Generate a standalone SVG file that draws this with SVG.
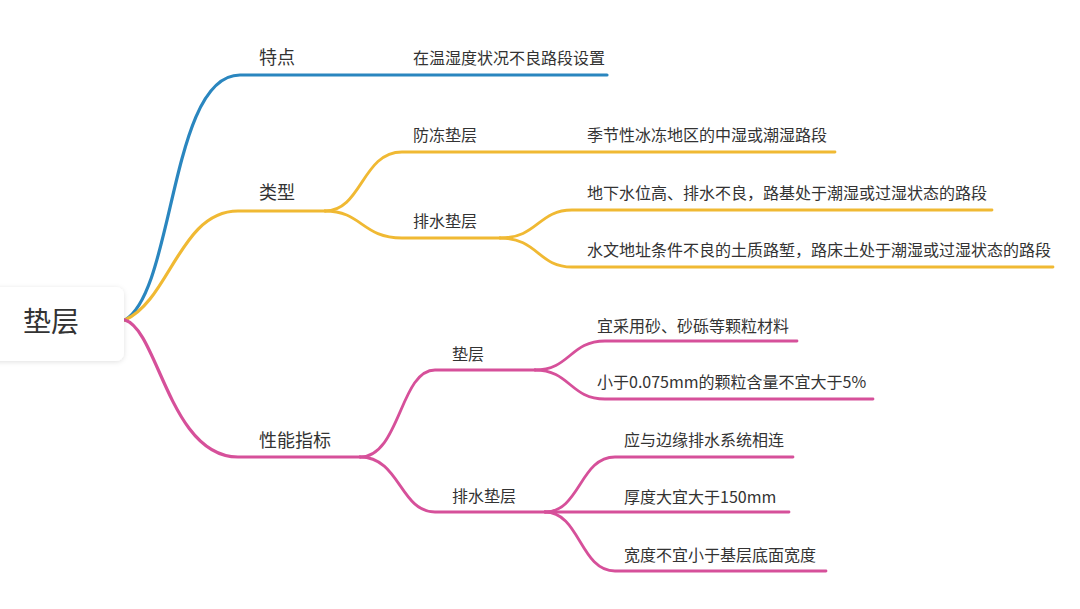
<svg xmlns="http://www.w3.org/2000/svg" width="1080" height="609" viewBox="0 0 1080 609">
<defs>
<filter id="sh" x="-20%" y="-30%" width="140%" height="160%">
<feDropShadow dx="0" dy="1" stdDeviation="2.5" flood-color="#000" flood-opacity="0.12"/>
</filter>
<style>
text{font-family:"Noto Sans CJK SC","Noto Sans",sans-serif;fill:#333}
.l1{font-size:18px}
.l2{font-size:16px}
.root{font-size:28px}
.c{fill:none;stroke-width:2.8;stroke-linecap:round}
.b{stroke:#2a86bf}
.y{stroke:#f0b933}
.p{stroke:#d6509a}
</style>
</defs>
<rect width="1080" height="609" fill="#fff"/>
<g id="connectors">
<path class="c b" d="M125,320 C175,290 170,75 240,75 H607" style="stroke-width:3.2"/>
<path class="c y" d="M125,320 C170,300 180,211 238,211 H325" style="stroke-width:3.2"/>
<path class="c p" d="M125,320 C158,330 170,457 238,457 H360" style="stroke-width:3.2"/>
<path class="c y" d="M325,211 C362,211 362,152 402,152 H835"/>
<path class="c y" d="M325,211 C362,211 362,238 402,238 H500"/>
<path class="c y" d="M500,238 C538,238 538,210 572,210 H992"/>
<path class="c y" d="M500,238 C538,238 538,267 572,267 H1053"/>
<path class="c p" d="M360,457 C400,457 400,370 435,370 H535"/>
<path class="c p" d="M360,457 C400,457 400,512 435,512 H545"/>
<path class="c p" d="M535,370 C570,370 570,341 605,341 H797"/>
<path class="c p" d="M535,370 C570,370 570,399 605,399 H873"/>
<path class="c p" d="M545,512 C580,512 580,457 615,457 H793"/>
<path class="c p" d="M545,512 H789"/>
<path class="c p" d="M545,512 C580,512 580,571 615,571 H826"/>
</g>
<g id="root">
<rect x="-12" y="287" width="136" height="74" rx="8" fill="#fff" filter="url(#sh)"/>
<text class="root" x="23" y="332">垫层</text>
</g>
<g id="n-tedian"><text class="l1" x="259" y="64">特点</text></g>
<g id="n-tedian-1"><text class="l2" x="413" y="64">在温湿度状况不良路段设置</text></g>
<g id="n-leixing"><text class="l1" x="259" y="199">类型</text></g>
<g id="n-fangdong"><text class="l2" x="413" y="141">防冻垫层</text></g>
<g id="n-fangdong-1"><text class="l2" x="587" y="141">季节性冰冻地区的中湿或潮湿路段</text></g>
<g id="n-paishui"><text class="l2" x="413" y="227">排水垫层</text></g>
<g id="n-paishui-1"><text class="l2" x="587" y="199">地下水位高、排水不良，路基处于潮湿或过湿状态的路段</text></g>
<g id="n-paishui-2"><text class="l2" x="587" y="256">水文地址条件不良的土质路堑，路床土处于潮湿或过湿状态的路段</text></g>
<g id="n-xingneng"><text class="l1" x="259" y="447">性能指标</text></g>
<g id="n-dianceng"><text class="l2" x="452" y="360">垫层</text></g>
<g id="n-dianceng-1"><text class="l2" x="597" y="332">宜采用砂、砂砾等颗粒材料</text></g>
<g id="n-dianceng-2"><text class="l2" x="597" y="388">小于0.075mm的颗粒含量不宜大于5%</text></g>
<g id="n-paishui2"><text class="l2" x="452" y="502">排水垫层</text></g>
<g id="n-paishui2-1"><text class="l2" x="624" y="446">应与边缘排水系统相连</text></g>
<g id="n-paishui2-2"><text class="l2" x="624" y="503">厚度大宜大于150mm</text></g>
<g id="n-paishui2-3"><text class="l2" x="624" y="561">宽度不宜小于基层底面宽度</text></g>
</svg>
